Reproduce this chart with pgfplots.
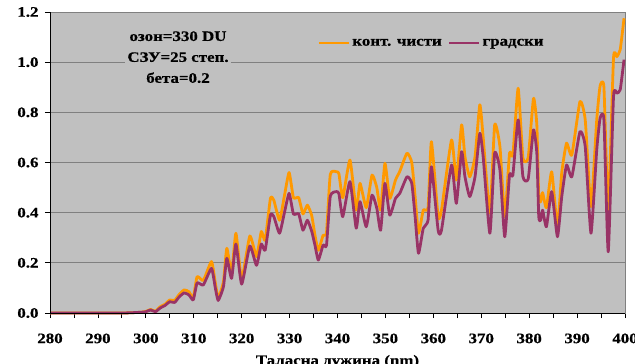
\documentclass[border=0pt]{standalone}
\usepackage{fontspec}
\setmainfont{Liberation Serif Bold}[FakeStretch=1.17, FakeBold=0.6]
\usepackage{pgfplots}
\usepackage{pgfplotstable}
\pgfplotsset{compat=1.18}
\definecolor{bgc}{HTML}{C0C0C0}
\definecolor{gridc}{HTML}{808080}
\definecolor{orng}{HTML}{FF9900}
\definecolor{purp}{HTML}{993366}
\pgfplotstableread{
x o p
280 0 0
285 0 0
290 0 0
295 0 0
297 0.001 0.001
298 0.002 0.002
299 0.003 0.003
300 0.006 0.005
301 0.014 0.012
302 0.007 0.005
303 0.025 0.020
304 0.035 0.030
305 0.052 0.045
306 0.050 0.042
307 0.075 0.065
308 0.092 0.080
309 0.085 0.072
309.9 0.060 0.052
310.7 0.145 0.120
312 0.130 0.112
313.7 0.205 0.178
314.5 0.120 0.100
315.1 0.060 0.050
316.2 0.125 0.105
316.9 0.258 0.218
317.9 0.160 0.138
318.8 0.318 0.275
320 0.135 0.115
321.7 0.307 0.267
323.1 0.225 0.190
324.1 0.325 0.275
324.9 0.290 0.250
326 0.457 0.390
326.7 0.450 0.385
327.9 0.370 0.318
328.9 0.465 0.398
329.9 0.560 0.477
330.8 0.460 0.395
331.9 0.460 0.395
332.8 0.395 0.330
333.7 0.430 0.370
334.6 0.390 0.327
335.3 0.310 0.270
336 0.250 0.211
337 0.310 0.271
337.7 0.320 0.270
338.5 0.553 0.466
339.8 0.563 0.484
340.3 0.555 0.475
341.1 0.460 0.384
342.6 0.610 0.524
343.9 0.410 0.338
344.7 0.517 0.444
346 0.420 0.344
347.2 0.550 0.470
348.2 0.500 0.418
349 0.410 0.330
349.9 0.597 0.517
350.9 0.457 0.390
352.1 0.530 0.457
353 0.565 0.477
354.5 0.637 0.543
355.5 0.600 0.517
356.2 0.464 0.384
356.9 0.318 0.238
357.9 0.410 0.338
358.9 0.420 0.370
359.6 0.683 0.583
361 0.384 0.330
361.7 0.410 0.330
363.8 0.690 0.590
364.8 0.530 0.437
365.9 0.750 0.643
366.6 0.623 0.543
367.6 0.543 0.464
368.7 0.623 0.543
369.7 0.830 0.716
370.4 0.700 0.623
371.8 0.398 0.318
372.8 0.750 0.637
373.9 0.663 0.570
374.9 0.384 0.304
375.9 0.637 0.550
376.6 0.630 0.550
377.7 0.896 0.770
378.7 0.617 0.543
379.8 0.620 0.535
380.9 0.856 0.730
381.6 0.750 0.637
382 0.460 0.384
382.4 0.444 0.370
382.8 0.480 0.410
383.6 0.420 0.344
384.7 0.563 0.484
385.9 0.344 0.304
386.8 0.560 0.464
387.8 0.677 0.590
388.9 0.630 0.543
390.6 0.843 0.723
391.7 0.770 0.663
392.9 0.424 0.318
394.1 0.770 0.650
394.8 0.905 0.776
395.6 0.900 0.770
396.5 0.410 0.244
397.6 1.016 0.862
398.3 1.022 0.876
399 1.050 0.890
399.8 1.175 1.010
}\data
\begin{document}
\begin{tikzpicture}[font=\fontsize{14.5}{17}\selectfont]
\begin{axis}[
  name=ax,
  scale only axis,
  width=575bp, height=301bp,
  xmin=280, xmax=400, ymin=0, ymax=1.2,
  axis background/.style={fill=bgc},
  axis line style={gridc, line width=0.8bp},
  xtick={280,290,...,400},
  minor xtick={285,295,...,395},
  ytick={0,0.2,...,1.2},
  ymajorgrids,
  major grid style={gridc, line width=0.8bp},
  tick align=outside,
  major tick length=5bp, minor tick length=5bp,
  xtick pos=bottom, ytick pos=left,
  tick style={black, line width=0.8bp},
  minor x tick style={black, line width=0.8bp},
  /pgf/number format/assume math mode=true,
  yticklabel style={/pgf/number format/.cd, fixed, fixed zerofill, precision=1, /tikz/.cd, xshift=-3bp},
  xticklabel style={/pgf/number format/1000 sep={}, yshift=-12bp},
  tick label style={font=\fontsize{14.5}{17}\selectfont},
  xlabel={Таласна дужина (nm)},
  xlabel style={at={(axis description cs:0.5,0)}, anchor=base, yshift=-52bp, font=\fontsize{14.5}{17}\selectfont},
  legend style={at={(axis description cs:0.465,0.897)}, anchor=west, draw=none, fill=none,
    font=\fontsize{14.5}{17}\selectfont, inner sep=0pt,
    /tikz/every even column/.append style={column sep=4bp}},
  legend columns=2,
  legend image code/.code={\draw[#1] (0bp,0bp) -- (30bp,0bp);},
  clip=false,
]
\addplot[orng, line width=2.8bp, line join=round, smooth, tension=0.3] table[x=x,y=o]{\data};
\addlegendentry{конт. чисти}
\addplot[purp, line width=2.8bp, line join=round, smooth, tension=0.3] table[x=x,y=p]{\data};
\addlegendentry{градски}
\draw[black, line width=0.8bp] (rel axis cs:0,0) -- (rel axis cs:1,0);
\draw[black, line width=0.8bp] (rel axis cs:0,0) -- (rel axis cs:0,1);
\node[fill=bgc, align=center, inner sep=2bp, font=\fontsize{14.5}{21}\selectfont] at (axis description cs:0.2226,0.85) {озон=330 DU\\СЗУ=25 степ.\\бета=0.2};
\end{axis}
\pgfresetboundingbox
\useasboundingbox ([xshift=-50bp,yshift=-51bp]ax.south west) rectangle ([xshift=10bp,yshift=12bp]ax.north east);
\end{tikzpicture}
\end{document}
